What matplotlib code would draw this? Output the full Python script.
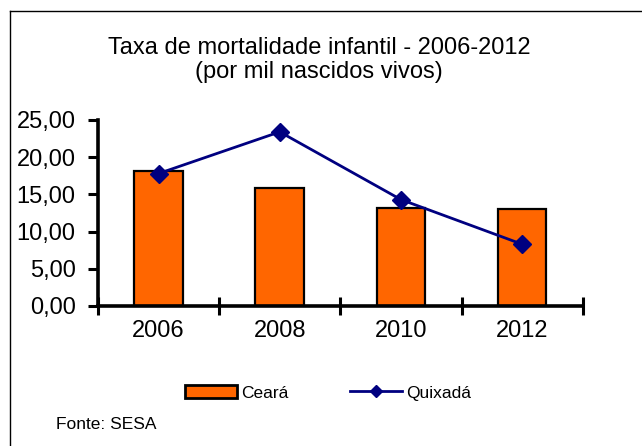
import matplotlib.pyplot as plt
import numpy as np
from matplotlib.lines import Line2D

plt.rcParams['font.family'] = ['Liberation Sans', 'DejaVu Sans']

# Valores
anos = ['2006', '2008', '2010', '2012']
ceara = [18.2, 15.9, 13.2, 13.0]
quixada = [17.8, 23.4, 14.3, 8.3]
yticks = [0, 5, 10, 15, 20, 25]

fig = plt.figure(figsize=(6.42, 4.46), dpi=100)
ax = fig.add_axes([0.1526, 0.314, 0.755, 0.417])

x = np.arange(len(anos))
ax.bar(x, ceara, width=0.4, color='#FF6600', edgecolor='black', linewidth=1.6,
       label='Ceará', zorder=2)
ax.plot(x, quixada, color='#000080', linewidth=2, marker='D', markersize=9,
        label='Quixadá', zorder=3)

ax.set_xlim(-0.5, len(anos) - 0.5)
ax.set_ylim(0, 25)

# eixo y
ax.set_yticks(yticks)
ax.set_yticklabels([f'{v:.2f}'.replace('.', ',') for v in yticks], fontsize=17)
ax.tick_params(axis='y', direction='out', length=7, width=2.2, pad=9)

# eixo x: marcas entre categorias, rótulos no centro
ax.set_xticks(np.arange(-0.5, len(anos), 1.0))
ax.set_xticklabels([])
ax.set_xticks(x, minor=True)
ax.set_xticklabels(anos, minor=True, fontsize=17)
ax.tick_params(axis='x', which='major', direction='inout', length=13, width=2.2)
ax.tick_params(axis='x', which='minor', length=0, pad=10)

for s in ['top', 'right']:
    ax.spines[s].set_visible(False)
for s in ['left', 'bottom']:
    ax.spines[s].set_linewidth(2.6)

fig.text(0.497, 0.866, 'Taxa de mortalidade infantil - 2006-2012\n(por mil nascidos vivos)',
         ha='center', va='center', fontsize=17, linespacing=1.1)

handles = [plt.Rectangle((0, 0), 1, 1, facecolor='#FF6600', edgecolor='black', linewidth=2),
           Line2D([0], [0], color='#000080', linewidth=2, marker='D', markersize=6)]
fig.legend(handles, ['Ceará', 'Quixadá'], loc='center', bbox_to_anchor=(0.511, 0.119),
           ncol=2, frameon=False, fontsize=12.5, handlelength=3.0, handletextpad=0.25,
           columnspacing=3.5)

fig.text(0.087, 0.049, 'Fonte: SESA', fontsize=12.5, va='center')

# moldura (topo e esquerda)
fig.add_artist(Line2D([9.5 / 642, 1], [1 - 10.5 / 446, 1 - 10.5 / 446],
                      transform=fig.transFigure, color='black', linewidth=1))
fig.add_artist(Line2D([9.5 / 642, 9.5 / 642], [0, 1 - 10.5 / 446],
                      transform=fig.transFigure, color='black', linewidth=1))

fig.savefig('out.png', dpi=100)
